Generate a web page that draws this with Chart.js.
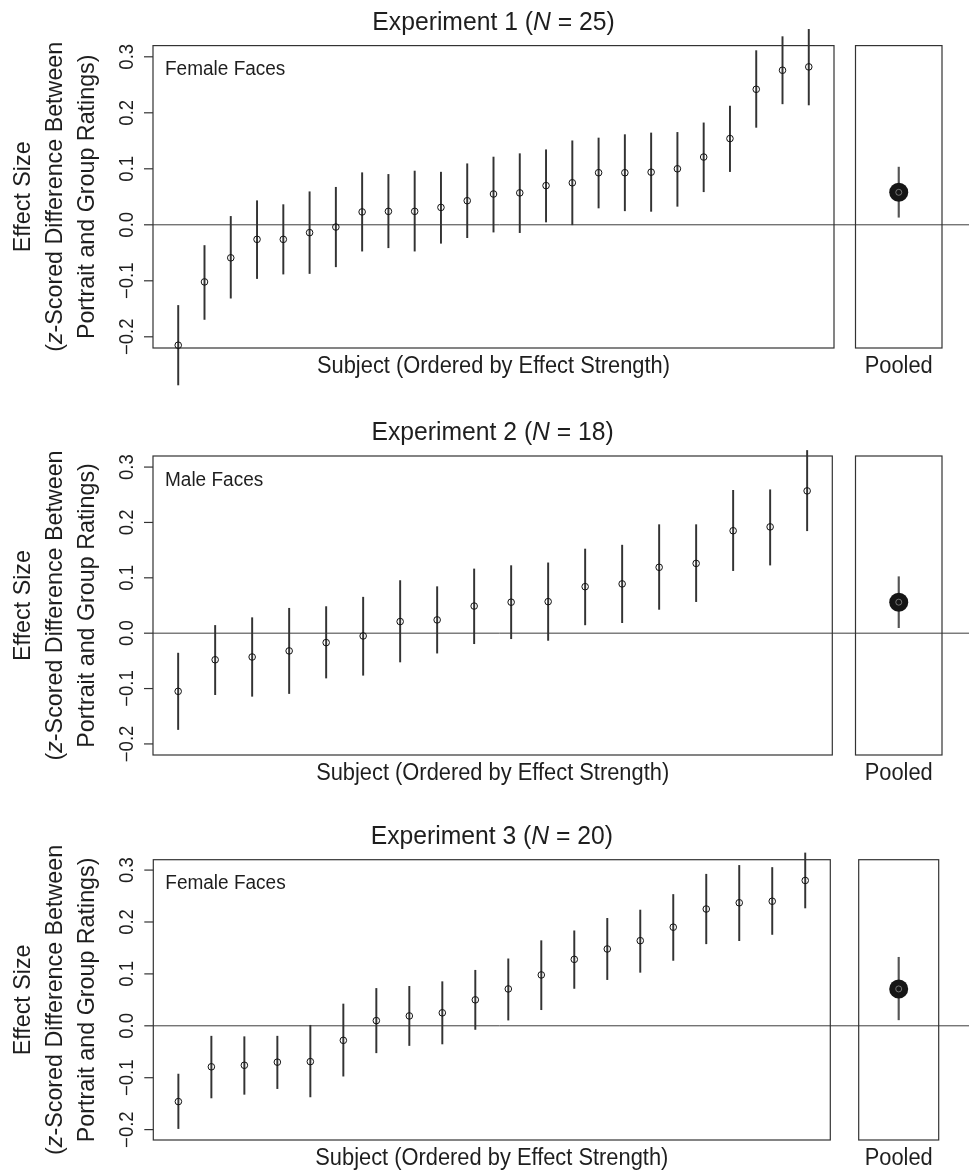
<html>
<head>
<script src="https://cdn.jsdelivr.net/npm/chart.js"></script>
<style>
  body { margin: 0; background: #fff; }
  #wrap { position: relative; width: 969px; height: 1175px; }
  canvas { position: absolute; }
</style>
</head>
<body>
<div id="wrap"></div>
<script>
// Experiment 1, female faces, N = 25 (subject means and interval ends)
var exp1Mean = [-0.215, -0.102, -0.059, -0.026, -0.026, -0.014, -0.004, 0.023, 0.024, 0.024, 0.031, 0.043, 0.055,
                0.057, 0.070, 0.075, 0.093, 0.093, 0.094, 0.100, 0.121, 0.154, 0.242, 0.276, 0.282];
var exp1Low = [-0.286, -0.169, -0.131, -0.096, -0.088, -0.087, -0.075, -0.047, -0.041, -0.047, -0.033, -0.023, -0.013,
               -0.014, 0.005, 0.000, 0.030, 0.025, 0.024, 0.033, 0.059, 0.095, 0.174, 0.216, 0.214];
var exp1High = [-0.144, -0.037, 0.015, 0.043, 0.036, 0.059, 0.067, 0.093, 0.090, 0.096, 0.094, 0.109, 0.121,
                0.127, 0.134, 0.150, 0.155, 0.161, 0.164, 0.165, 0.182, 0.212, 0.311, 0.336, 0.349];

// Experiment 2, male faces, N = 18
var exp2Mean = [-0.105, -0.048, -0.043, -0.032, -0.017, -0.005, 0.021, 0.024, 0.049, 0.056, 0.057, 0.084, 0.089,
                0.119, 0.126, 0.185, 0.192, 0.257];
var exp2Low = [-0.174, -0.111, -0.114, -0.109, -0.081, -0.076, -0.052, -0.036, -0.019, -0.010, -0.013, 0.015, 0.019,
               0.043, 0.057, 0.113, 0.123, 0.185];
var exp2High = [-0.036, 0.014, 0.028, 0.045, 0.048, 0.065, 0.095, 0.084, 0.116, 0.122, 0.127, 0.152, 0.159,
                0.196, 0.196, 0.258, 0.259, 0.330];

// Experiment 3, female faces, N = 20
var exp3Mean = [-0.146, -0.079, -0.076, -0.070, -0.069, -0.028, 0.010, 0.019, 0.025, 0.050, 0.071, 0.098, 0.128,
                0.148, 0.164, 0.190, 0.225, 0.237, 0.240, 0.280];
var exp3Low = [-0.198, -0.139, -0.132, -0.121, -0.137, -0.097, -0.052, -0.038, -0.035, -0.007, 0.011, 0.031, 0.072,
               0.089, 0.103, 0.126, 0.158, 0.164, 0.176, 0.227];
var exp3High = [-0.093, -0.020, -0.021, -0.020, 0.001, 0.042, 0.072, 0.076, 0.085, 0.107, 0.129, 0.164, 0.183,
                0.207, 0.223, 0.253, 0.292, 0.309, 0.305, 0.333];

// pooled estimate per experiment
var pooledMean = [0.058, 0.056, 0.071];
var pooledLow = [0.0135, 0.010, 0.0115];
var pooledHigh = [0.103, 0.102, 0.132];

var yTicks = [-0.2, -0.1, 0, 0.1, 0.2, 0.3];
var yTickLabels = ['\u22120.2', '\u22120.1', '0.0', '0.1', '0.2', '0.3'];
var yLimits = [-0.2, 0.3];
var expNames = ['Experiment 1', 'Experiment 2', 'Experiment 3'];
var expN = ['25', '18', '20'];
var faceLabels = ['Female Faces', 'Male Faces', 'Female Faces'];

var series = [
  [exp1Mean, exp1Low, exp1High],
  [exp2Mean, exp2Low, exp2High],
  [exp3Mean, exp3Low, exp3High]
];

// page layout (px)
var panels = [
  { top: 0,   h: 395, box: [153, 834, 45.6, 348],    pool: [854, 942] },
  { top: 395, h: 395, box: [153, 832.3, 456, 755],   pool: [852.3, 942] },
  { top: 790, h: 385, box: [153.3, 830.3, 859.7, 1140], pool: [858.7, 938.7] }
];
var SPLIT = 846;
var INK = '#1e1e1e';

// condensed font if we have one, otherwise squeeze the regular one
var FONT = (function () {
  var c = document.createElement('canvas').getContext('2d');
  c.font = '40px monospace';
  var a = c.measureText('Experiment abc').width;
  c.font = '40px "Liberation Sans Narrow", monospace';
  var b = c.measureText('Experiment abc').width;
  if (a !== b) return { family: '"Liberation Sans Narrow"', sx: 1.15 };
  return { family: '"Liberation Sans", Arial', sx: 0.95 };
})();

function drawRich(ctx, parts, x, y, size, rot, align) {
  ctx.save();
  ctx.translate(x, y);
  if (rot) ctx.rotate(rot);
  ctx.scale(FONT.sx, 1);
  ctx.textBaseline = 'middle';
  ctx.textAlign = 'left';
  ctx.fillStyle = INK;
  var ws = [], w = 0;
  parts.forEach(function (p) {
    ctx.font = (p[1] ? 'italic ' : '') + size + 'px ' + FONT.family;
    var m = ctx.measureText(p[0]).width;
    ws.push(m); w += m;
  });
  var cx = align === 'left' ? 0 : -w / 2;
  parts.forEach(function (p, i) {
    ctx.font = (p[1] ? 'italic ' : '') + size + 'px ' + FONT.family;
    ctx.fillText(p[0], cx, 0);
    cx += ws[i];
  });
  ctx.restore();
}

var framePlugin = {
  id: 'frame',
  beforeDatasetsDraw: function (chart, args, o) {
    var ctx = chart.ctx, a = chart.chartArea, y = chart.scales.y;
    var y0 = y.getPixelForValue(0);
    ctx.save();
    ctx.strokeStyle = '#3c3c3c';
    ctx.lineWidth = 1;
    ctx.beginPath();
    ctx.moveTo(o.main ? a.left : 0, y0);
    ctx.lineTo(chart.width, y0);
    ctx.stroke();
    ctx.lineWidth = 1.2;
    ctx.strokeStyle = '#333';
    ctx.strokeRect(a.left, a.top, a.right - a.left, a.bottom - a.top);
    ctx.restore();
  },
  afterDraw: function (chart, args, o) {
    var ctx = chart.ctx, a = chart.chartArea, y = chart.scales.y;
    var cx = (a.left + a.right) / 2;
    if (!o.main) {
      drawRich(ctx, [['Pooled', 0]], cx, a.bottom + 19, 23);
      return;
    }
    ctx.save();
    ctx.strokeStyle = '#333';
    ctx.lineWidth = 1.2;
    yTicks.forEach(function (t, i) {
      var py = y.getPixelForValue(t);
      ctx.beginPath();
      ctx.moveTo(a.left - 9, py);
      ctx.lineTo(a.left, py);
      ctx.stroke();
      drawRich(ctx, [[yTickLabels[i], 0]], 127.5, py, 19.5, -Math.PI / 2);
    });
    ctx.restore();
    var cy = (a.top + a.bottom) / 2;
    drawRich(ctx, [['Effect Size', 0]], 23, cy, 24.5, -Math.PI / 2);
    drawRich(ctx, [['(', 0], ['z', 1], ['-Scored Difference Between', 0]], 55, cy, 24.5, -Math.PI / 2);
    drawRich(ctx, [['Portrait and Group Ratings)', 0]], 87, cy, 24.5, -Math.PI / 2);
    drawRich(ctx, [[o.name + ' (', 0], ['N', 1], [' = ' + o.n + ')', 0]], cx, a.top - 23, 26);
    drawRich(ctx, [['Subject (Ordered by Effect Strength)', 0]], cx, a.bottom + 19, 23);
    drawRich(ctx, [[o.faces, 0]], a.left + 12, a.top + 24, 20, 0, 'left');
  }
};

function addCanvas(left, top, w, h) {
  var c = document.createElement('canvas');
  c.width = w; c.height = h;
  c.style.left = left + 'px'; c.style.top = top + 'px';
  c.style.width = w + 'px'; c.style.height = h + 'px';
  document.getElementById('wrap').appendChild(c);
  return c;
}

var yPad = (yLimits[1] - yLimits[0]) * 0.04;

panels.forEach(function (p, k) {
  var mean = series[k][0], low = series[k][1], high = series[k][2];
  var n = mean.length, xPad = (n - 1) * 0.04;

  var mainCanvas = addCanvas(0, p.top, SPLIT, p.h);
  new Chart(mainCanvas, {
    type: 'bar',
    data: {
      datasets: [
        {
          type: 'scatter',
          data: mean.map(function (m, i) { return { x: i + 1, y: m }; }),
          pointRadius: 3.3,
          pointBorderWidth: 1,
          pointBorderColor: '#111',
          pointBackgroundColor: 'rgba(0,0,0,0)',
          clip: false
        },
        {
          type: 'bar',
          data: mean.map(function (m, i) { return { x: i + 1, y: [low[i], high[i]] }; }),
          barThickness: 1.3,
          backgroundColor: '#333',
          borderWidth: 0,
          clip: false
        }
      ]
    },
    options: {
      responsive: false,
      animation: false,
      devicePixelRatio: 1,
      layout: { padding: { left: p.box[0], right: SPLIT - p.box[1], top: p.box[2] - p.top, bottom: p.top + p.h - p.box[3] } },
      scales: {
        x: { type: 'linear', offset: false, min: 1 - xPad, max: n + xPad, display: false },
        y: { min: yLimits[0] - yPad, max: yLimits[1] + yPad, display: false }
      },
      plugins: {
        legend: { display: false },
        tooltip: { enabled: false },
        frame: { main: true, name: expNames[k], n: expN[k], faces: faceLabels[k] }
      }
    },
    plugins: [framePlugin]
  });

  var poolCanvas = addCanvas(SPLIT, p.top, 969 - SPLIT, p.h);
  new Chart(poolCanvas, {
    type: 'bar',
    data: {
      datasets: [
        {
          type: 'scatter',
          data: [{ x: 1, y: pooledMean[k] }],
          pointRadius: 3,
          pointBorderWidth: 0.8,
          pointBorderColor: '#8a8a8a',
          pointBackgroundColor: 'rgba(0,0,0,0)',
          clip: false
        },
        {
          type: 'scatter',
          data: [{ x: 1, y: pooledMean[k] }],
          pointRadius: 9.5,
          pointBorderWidth: 0,
          pointBackgroundColor: '#161616',
          clip: false
        },
        {
          type: 'bar',
          data: [{ x: 1, y: [pooledLow[k], pooledHigh[k]] }],
          barThickness: 1.5,
          backgroundColor: '#555',
          borderWidth: 0,
          clip: false
        }
      ]
    },
    options: {
      responsive: false,
      animation: false,
      devicePixelRatio: 1,
      layout: { padding: { left: p.pool[0] - SPLIT, right: 969 - p.pool[1], top: p.box[2] - p.top, bottom: p.top + p.h - p.box[3] } },
      scales: {
        x: { type: 'linear', offset: false, min: 0, max: 2, display: false },
        y: { min: yLimits[0] - yPad, max: yLimits[1] + yPad, display: false }
      },
      plugins: {
        legend: { display: false },
        tooltip: { enabled: false },
        frame: { main: false }
      }
    },
    plugins: [framePlugin]
  });
});
</script>
</body>
</html>
